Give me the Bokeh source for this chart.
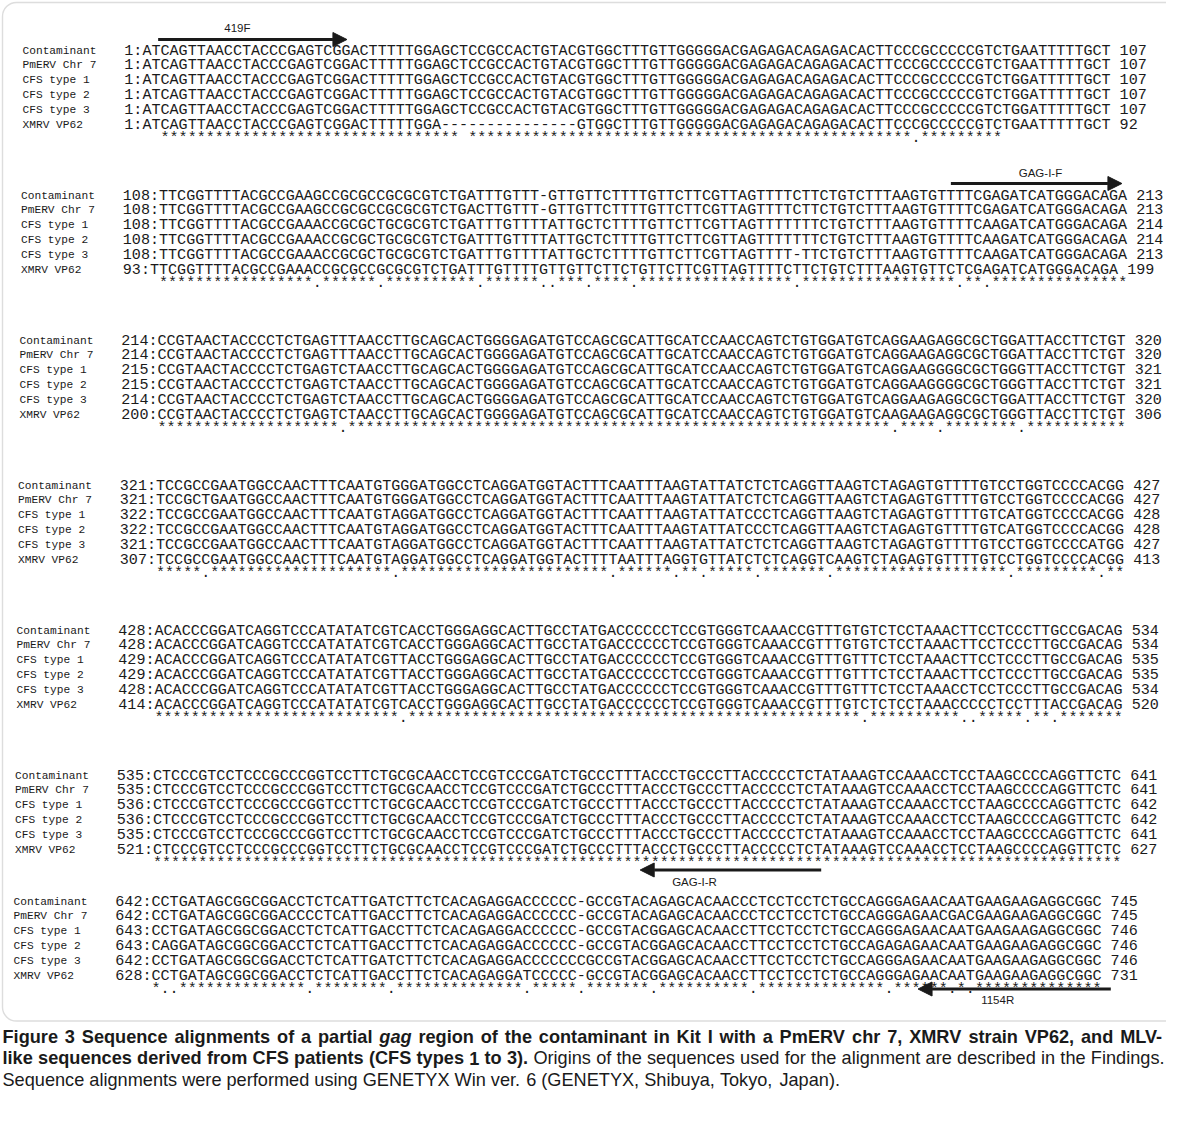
from bokeh.plotting import figure
from bokeh.models import Range1d, ColumnDataSource, Arrow, NormalHead, BoxAnnotation
from bokeh.embed import file_html
from bokeh.resources import INLINE
from bokeh.core.properties import value

# ---------------- data ----------------
strain_names = ["Contaminant", "PmERV Chr 7", "CFS type 1", "CFS type 2", "CFS type 3", "XMRV VP62"]

seq_contaminant = [
    "ATCAGTTAACCTACCCGAGTCGGACTTTTTGGAGCTCCGCCACTGTACGTGGCTTTGTTGGGGGACGAGAGACAGAGACACTTCCCGCCCCCGTCTGAATTTTTGCT",
    "TTCGGTTTTACGCCGAAGCCGCGCCGCGCGTCTGATTTGTTT-GTTGTTCTTTTGTTCTTCGTTAGTTTTCTTCTGTCTTTAAGTGTTTTCGAGATCATGGGACAGA",
    "CCGTAACTACCCCTCTGAGTTTAACCTTGCAGCACTGGGGAGATGTCCAGCGCATTGCATCCAACCAGTCTGTGGATGTCAGGAAGAGGCGCTGGATTACCTTCTGT",
    "TCCGCCGAATGGCCAACTTTCAATGTGGGATGGCCTCAGGATGGTACTTTCAATTTAAGTATTATCTCTCAGGTTAAGTCTAGAGTGTTTTGTCCTGGTCCCCACGG",
    "ACACCCGGATCAGGTCCCATATATCGTCACCTGGGAGGCACTTGCCTATGACCCCCCTCCGTGGGTCAAACCGTTTGTGTCTCCTAAACTTCCTCCCTTGCCGACAG",
    "CTCCCGTCCTCCCGCCCGGTCCTTCTGCGCAACCTCCGTCCCGATCTGCCCTTTACCCTGCCCTTACCCCCTCTATAAAGTCCAAACCTCCTAAGCCCCAGGTTCTC",
    "CCTGATAGCGGCGGACCTCTCATTGATCTTCTCACAGAGGACCCCCC-GCCGTACAGAGCACAACCCTCCTCCTCTGCCAGGGAGAACAATGAAGAAGAGGCGGC",
]
seq_pmerv = [
    "ATCAGTTAACCTACCCGAGTCGGACTTTTTGGAGCTCCGCCACTGTACGTGGCTTTGTTGGGGGACGAGAGACAGAGACACTTCCCGCCCCCGTCTGAATTTTTGCT",
    "TTCGGTTTTACGCCGAAGCCGCGCCGCGCGTCTGACTTGTTT-GTTGTTCTTTTGTTCTTCGTTAGTTTTCTTCTGTCTTTAAGTGTTTTCGAGATCATGGGACAGA",
    "CCGTAACTACCCCTCTGAGTTTAACCTTGCAGCACTGGGGAGATGTCCAGCGCATTGCATCCAACCAGTCTGTGGATGTCAGGAAGAGGCGCTGGATTACCTTCTGT",
    "TCCGCTGAATGGCCAACTTTCAATGTGGGATGGCCTCAGGATGGTACTTTCAATTTAAGTATTATCTCTCAGGTTAAGTCTAGAGTGTTTTGTCCTGGTCCCCACGG",
    "ACACCCGGATCAGGTCCCATATATCGTCACCTGGGAGGCACTTGCCTATGACCCCCCTCCGTGGGTCAAACCGTTTGTGTCTCCTAAACTTCCTCCCTTGCCGACAG",
    "CTCCCGTCCTCCCGCCCGGTCCTTCTGCGCAACCTCCGTCCCGATCTGCCCTTTACCCTGCCCTTACCCCCTCTATAAAGTCCAAACCTCCTAAGCCCCAGGTTCTC",
    "CCTGATAGCGGCGGACCCCTCATTGACCTTCTCACAGAGGACCCCCC-GCCGTACAGAGCACAACCCTCCTCCTCTGCCAGGGAGAACGACGAAGAAGAGGCGGC",
]
seq_cfs1 = [
    "ATCAGTTAACCTACCCGAGTCGGACTTTTTGGAGCTCCGCCACTGTACGTGGCTTTGTTGGGGGACGAGAGACAGAGACACTTCCCGCCCCCGTCTGGATTTTTGCT",
    "TTCGGTTTTACGCCGAAACCGCGCTGCGCGTCTGATTTGTTTTATTGCTCTTTTGTTCTTCGTTAGTTTTTTTCTGTCTTTAAGTGTTTTCAAGATCATGGGACAGA",
    "CCGTAACTACCCCTCTGAGTCTAACCTTGCAGCACTGGGGAGATGTCCAGCGCATTGCATCCAACCAGTCTGTGGATGTCAGGAAGGGGCGCTGGGTTACCTTCTGT",
    "TCCGCCGAATGGCCAACTTTCAATGTAGGATGGCCTCAGGATGGTACTTTCAATTTAAGTATTATCCCTCAGGTTAAGTCTAGAGTGTTTTGTCATGGTCCCCACGG",
    "ACACCCGGATCAGGTCCCATATATCGTTACCTGGGAGGCACTTGCCTATGACCCCCCTCCGTGGGTCAAACCGTTTGTTTCTCCTAAACTTCCTCCCTTGCCGACAG",
    "CTCCCGTCCTCCCGCCCGGTCCTTCTGCGCAACCTCCGTCCCGATCTGCCCTTTACCCTGCCCTTACCCCCTCTATAAAGTCCAAACCTCCTAAGCCCCAGGTTCTC",
    "CCTGATAGCGGCGGACCTCTCATTGACCTTCTCACAGAGGACCCCCC-GCCGTACGGAGCACAACCTTCCTCCTCTGCCAGGGAGAACAATGAAGAAGAGGCGGC",
]
seq_cfs2 = [
    "ATCAGTTAACCTACCCGAGTCGGACTTTTTGGAGCTCCGCCACTGTACGTGGCTTTGTTGGGGGACGAGAGACAGAGACACTTCCCGCCCCCGTCTGGATTTTTGCT",
    "TTCGGTTTTACGCCGAAACCGCGCTGCGCGTCTGATTTGTTTTATTGCTCTTTTGTTCTTCGTTAGTTTTTTTCTGTCTTTAAGTGTTTTCAAGATCATGGGACAGA",
    "CCGTAACTACCCCTCTGAGTCTAACCTTGCAGCACTGGGGAGATGTCCAGCGCATTGCATCCAACCAGTCTGTGGATGTCAGGAAGGGGCGCTGGGTTACCTTCTGT",
    "TCCGCCGAATGGCCAACTTTCAATGTAGGATGGCCTCAGGATGGTACTTTCAATTTAAGTATTATCCCTCAGGTTAAGTCTAGAGTGTTTTGTCATGGTCCCCACGG",
    "ACACCCGGATCAGGTCCCATATATCGTTACCTGGGAGGCACTTGCCTATGACCCCCCTCCGTGGGTCAAACCGTTTGTTTCTCCTAAACTTCCTCCCTTGCCGACAG",
    "CTCCCGTCCTCCCGCCCGGTCCTTCTGCGCAACCTCCGTCCCGATCTGCCCTTTACCCTGCCCTTACCCCCTCTATAAAGTCCAAACCTCCTAAGCCCCAGGTTCTC",
    "CAGGATAGCGGCGGACCTCTCATTGACCTTCTCACAGAGGACCCCCC-GCCGTACGGAGCACAACCTTCCTCCTCTGCCAGAGAGAACAATGAAGAAGAGGCGGC",
]
seq_cfs3 = [
    "ATCAGTTAACCTACCCGAGTCGGACTTTTTGGAGCTCCGCCACTGTACGTGGCTTTGTTGGGGGACGAGAGACAGAGACACTTCCCGCCCCCGTCTGGATTTTTGCT",
    "TTCGGTTTTACGCCGAAACCGCGCTGCGCGTCTGATTTGTTTTATTGCTCTTTTGTTCTTCGTTAGTTTT-TTCTGTCTTTAAGTGTTTTCAAGATCATGGGACAGA",
    "CCGTAACTACCCCTCTGAGTCTAACCTTGCAGCACTGGGGAGATGTCCAGCGCATTGCATCCAACCAGTCTGTGGATGTCAGGAAGAGGCGCTGGATTACCTTCTGT",
    "TCCGCCGAATGGCCAACTTTCAATGTAGGATGGCCTCAGGATGGTACTTTCAATTTAAGTATTATCTCTCAGGTTAAGTCTAGAGTGTTTTGTCCTGGTCCCCATGG",
    "ACACCCGGATCAGGTCCCATATATCGTTACCTGGGAGGCACTTGCCTATGACCCCCCTCCGTGGGTCAAACCGTTTGTTTCTCCTAAACCTCCTCCCTTGCCGACAG",
    "CTCCCGTCCTCCCGCCCGGTCCTTCTGCGCAACCTCCGTCCCGATCTGCCCTTTACCCTGCCCTTACCCCCTCTATAAAGTCCAAACCTCCTAAGCCCCAGGTTCTC",
    "CCTGATAGCGGCGGACCTCTCATTGATCTTCTCACAGAGGACCCCCCCGCCGTACGGAGCACAACCTTCCTCCTCTGCCAGGGAGAACAATGAAGAAGAGGCGGC",
]
seq_xmrv = [
    "ATCAGTTAACCTACCCGAGTCGGACTTTTTGGA---------------GTGGCTTTGTTGGGGGACGAGAGACAGAGACACTTCCCGCCCCCGTCTGAATTTTTGCT",
    "TTCGGTTTTACGCCGAAACCGCGCCGCGCGTCTGATTTGTTTTGTTGTTCTTCTGTTCTTCGTTAGTTTTCTTCTGTCTTTAAGTGTTCTCGAGATCATGGGACAGA",
    "CCGTAACTACCCCTCTGAGTCTAACCTTGCAGCACTGGGGAGATGTCCAGCGCATTGCATCCAACCAGTCTGTGGATGTCAAGAAGAGGCGCTGGGTTACCTTCTGT",
    "TCCGCCGAATGGCCAACTTTCAATGTAGGATGGCCTCAGGATGGTACTTTTAATTTAGGTGTTATCTCTCAGGTCAAGTCTAGAGTGTTTTGTCCTGGTCCCCACGG",
    "ACACCCGGATCAGGTCCCATATATCGTCACCTGGGAGGCACTTGCCTATGACCCCCCTCCGTGGGTCAAACCGTTTGTCTCTCCTAAACCCCCTCCTTTACCGACAG",
    "CTCCCGTCCTCCCGCCCGGTCCTTCTGCGCAACCTCCGTCCCGATCTGCCCTTTACCCTGCCCTTACCCCCTCTATAAAGTCCAAACCTCCTAAGCCCCAGGTTCTC",
    "CCTGATAGCGGCGGACCTCTCATTGACCTTCTCACAGAGGATCCCCC-GCCGTACGGAGCACAACCTTCCTCCTCTGCCAGGGAGAACAATGAAGAAGAGGCGGC",
]

start_contaminant = [1, 108, 214, 321, 428, 535, 642]
start_pmerv = [1, 108, 214, 321, 428, 535, 642]
start_cfs1 = [1, 108, 215, 322, 429, 536, 643]
start_cfs2 = [1, 108, 215, 322, 429, 536, 643]
start_cfs3 = [1, 108, 214, 321, 428, 535, 642]
start_xmrv = [1, 93, 200, 307, 414, 521, 628]

end_contaminant = [107, 213, 320, 427, 534, 641, 745]
end_pmerv = [107, 213, 320, 427, 534, 641, 745]
end_cfs1 = [107, 214, 321, 428, 535, 642, 746]
end_cfs2 = [107, 214, 321, 428, 535, 642, 746]
end_cfs3 = [107, 213, 320, 427, 534, 641, 746]
end_xmrv = [92, 199, 306, 413, 520, 627, 731]

consensus = [
    "*" * 33 + " " * 15 + "*" * 49 + "." + "*" * 9,
    "*" * 17 + "." + "*" * 6 + "." + "*" * 10 + "." + "*" * 6 + ".." + "*" * 3 + "." + "*" * 4 + "."
    + "*" * 17 + "." + "*" * 17 + "." + "*" * 2 + "." + "*" * 15,
    "*" * 20 + "." + "*" * 60 + "." + "*" * 4 + "." + "*" * 8 + "." + "*" * 11,
    "*" * 5 + "." + "*" * 20 + "." + "*" * 23 + "." + "*" * 6 + "." + "*" * 2 + "." + "*" * 5 + "."
    + "*" * 7 + "." + "*" * 19 + "." + "*" * 9 + "." + "*" * 2,
    "*" * 27 + "." + "*" * 50 + "." + "*" * 10 + ".." + "*" * 5 + "." + "*" * 2 + "." + "*" * 7,
    "*" * 107,
    "*.." + "*" * 14 + "." + "*" * 8 + "." + "*" * 14 + "." + "*" * 5 + "." + "*" * 7 + "." + "*" * 10
    + "." + "*" * 14 + "." + "*" * 6 + "." + "*" + "." + "*" * 14,
]

primer_names = ["419F", "GAG-I-F", "GAG-I-R", "1154R"]
primer_block = [0, 1, 6, 6]
primer_tail_col = [0.74, 88.5, 75.0, 107.0]
primer_head_col = [21.6, 107.4, 55.0, 85.7]
primer_label_col = [9.5, 98.4, 61.0, 94.5]

caption_line1 = [("Figure", "b"), ("3", "b"), ("Sequence", "b"), ("alignments", "b"), ("of", "b"), ("a", "b"),
                 ("partial", "b"), ("gag", "bi"), ("region", "b"), ("of", "b"), ("the", "b"), ("contaminant", "b"),
                 ("in", "b"), ("Kit", "b"), ("I", "b"), ("with", "b"), ("a", "b"), ("PmERV", "b"), ("chr", "b"),
                 ("7,", "b"), ("XMRV", "b"), ("strain", "b"), ("VP62,", "b"), ("and", "b"), ("MLV-", "b")]
caption_line2 = [(w, "b") for w in "like sequences derived from CFS patients (CFS types 1 to 3).".split()] + \
                [(w, "n") for w in "Origins of the sequences used for the alignment are described in the Findings.".split()]
caption_line3 = [(w, "n") for w in
                 "Sequence alignments were performed using GENETYX Win ver. 6 (GENETYX, Shibuya, Tokyo, Japan).".split()]

# ---------------- layout ----------------
W, H = 1166, 1123
P = 9.05                      # column pitch (px)
SEQ_FS = P / 0.6001           # Liberation Mono advance = 0.6 em
X1 = 168.0                    # left edge of alignment column 1 (block 1)
DX = -1.5                     # slight skew of the scanned page per block
NAME_X = 30.0
Y0 = 58.0
BLOCK_DY = 145.0
ROW_DY = 14.9
TXT = "#1a1a1a"


def block_top(b):
    return Y0 + b * BLOCK_DY - (19.0 if b == 6 else 0.0)


def col_x(b, c):
    return X1 + DX * b + (c - 1) * P


def cons_y(b):
    return block_top(b) + 5 * ROW_DY + 10


p = figure(width=W, height=H, x_range=Range1d(8, 8 + W), y_range=Range1d(8 + H, 8),
           x_axis_type=None, y_axis_type=None, toolbar_location=None,
           output_backend="svg", min_border=0, outline_line_color=None)
p.background_fill_color = "white"
p.border_fill_color = "white"

# frame box (rounded)
p.add_layout(BoxAnnotation(left=10, right=1200, top=10, bottom=cons_y(6) + 35,
                           fill_alpha=0, line_color="#8f8f8f", line_width=1.4, border_radius=14))

all_seqs = [seq_contaminant, seq_pmerv, seq_cfs1, seq_cfs2, seq_cfs3, seq_xmrv]
all_starts = [start_contaminant, start_pmerv, start_cfs1, start_cfs2, start_cfs3, start_xmrv]
all_ends = [end_contaminant, end_pmerv, end_cfs1, end_cfs2, end_cfs3, end_xmrv]

name_src = dict(x=[], y=[], text=[])
row_src = dict(x=[], y=[], text=[])
cons_src = dict(x=[], y=[], text=[])
for b in range(7):
    for k in range(6):
        y = block_top(b) + k * ROW_DY
        name_src["x"].append(NAME_X + DX * b)
        name_src["y"].append(y)
        name_src["text"].append(strain_names[k])
        s = all_seqs[k][b]
        line = "%3d:%s %d" % (all_starts[k][b], s.ljust(107), all_ends[k][b])
        row_src["x"].append(col_x(b, -3))
        row_src["y"].append(y)
        row_src["text"].append(line)
    cons_src["x"].append(col_x(b, 1))
    cons_src["y"].append(cons_y(b) + 2.5)
    cons_src["text"].append(consensus[b])

p.text(x="x", y="y", text="text", source=ColumnDataSource(name_src),
       text_font=value("Liberation Mono"), text_font_size=value("11.2px"),
       text_align="left", text_baseline="middle", text_color=TXT)
p.text(x="x", y="y", text="text", source=ColumnDataSource(row_src),
       text_font=value("Liberation Mono"), text_font_size=value("%.2fpx" % SEQ_FS),
       text_align="left", text_baseline="middle", text_color=TXT)
p.text(x="x", y="y", text="text", source=ColumnDataSource(cons_src),
       text_font=value("Liberation Mono"), text_font_size=value("%.2fpx" % SEQ_FS),
       text_align="left", text_baseline="middle", text_color=TXT)

# primer arrows
lab_src = dict(x=[], y=[], text=[])
for i, nm in enumerate(primer_names):
    b = primer_block[i]
    if i == 0:
        ya, yl = block_top(0) - 11, block_top(0) - 23
    elif i == 1:
        ya, yl = block_top(1) - 12, block_top(1) - 23
    elif i == 2:
        ya, yl = cons_y(5) + 10, cons_y(5) + 22
    else:
        ya, yl = cons_y(6) + 3, cons_y(6) + 14
    p.add_layout(Arrow(end=NormalHead(size=14, line_color=TXT, fill_color=TXT),
                       x_start=col_x(b, primer_tail_col[i]), y_start=ya,
                       x_end=col_x(b, primer_head_col[i]), y_end=ya,
                       line_width=3.2, line_color=TXT))
    lab_src["x"].append(col_x(b, primer_label_col[i]))
    lab_src["y"].append(yl)
    lab_src["text"].append(nm)
p.text(x="x", y="y", text="text", source=ColumnDataSource(lab_src),
       text_font=value("Liberation Sans"), text_font_size=value("11.5px"),
       text_align="center", text_baseline="middle", text_color=TXT)

# ---------------- caption (justified, Arial/Helvetica metrics) ----------------
REG = dict(zip("ABCDEFGHIJKLMNOPQRSTUVWXYZ",
               [667, 667, 722, 722, 667, 611, 778, 722, 278, 500, 667, 556, 833, 722, 778, 667, 778, 722, 667,
                611, 722, 667, 944, 667, 667, 611]))
REG.update(dict(zip("abcdefghijklmnopqrstuvwxyz",
                    [556, 556, 500, 556, 556, 278, 556, 556, 222, 222, 500, 222, 833, 556, 556, 556, 556, 333, 500,
                     278, 556, 500, 722, 500, 500, 500])))
BOLD = dict(zip("ABCDEFGHIJKLMNOPQRSTUVWXYZ",
                [722, 722, 722, 722, 667, 611, 778, 722, 278, 556, 722, 611, 833, 722, 778, 667, 778, 722, 667,
                 611, 722, 667, 944, 667, 667, 611]))
BOLD.update(dict(zip("abcdefghijklmnopqrstuvwxyz",
                     [556, 611, 556, 611, 556, 333, 611, 611, 278, 278, 556, 278, 889, 611, 611, 611, 611, 389, 556,
                      333, 611, 556, 778, 556, 556, 500])))
for t in (REG, BOLD):
    t.update({c: 556 for c in "0123456789"})
    t.update({" ": 278, ",": 278, ".": 278, "-": 333, "(": 333, ")": 333, ":": 278})


def em(word, style):
    tab = REG if style == "n" else BOLD
    return sum(tab.get(ch, 556) for ch in word) / 1000.0


CAP_X0, CAP_X1 = 10.0, 1172.0
CW = CAP_X1 - CAP_X0


def natural(words):
    return sum(em(w, s) for w, s in words) + 0.278 * (len(words) - 1)


CAP_FS = min(18.5, 0.996 * CW / max(natural(caption_line1), natural(caption_line2)))
cap_y0 = block_top(6) + 135
CAP_LH = 21.5

cap = {"b": dict(x=[], y=[], text=[]), "bi": dict(x=[], y=[], text=[]), "n": dict(x=[], y=[], text=[])}
for li, (words, justify) in enumerate([(caption_line1, True), (caption_line2, True), (caption_line3, False)]):
    widths = [em(w, s) * CAP_FS for w, s in words]
    if justify:
        gap = (CW - sum(widths)) / (len(words) - 1)
    else:
        gap = 0.278 * CAP_FS
    x = CAP_X0
    for (w, s), wd in zip(words, widths):
        cap[s]["x"].append(x)
        cap[s]["y"].append(cap_y0 + li * CAP_LH)
        cap[s]["text"].append(w)
        x += wd + gap

for s, style in (("b", "bold"), ("bi", "bold italic"), ("n", "normal")):
    p.text(x="x", y="y", text="text", source=ColumnDataSource(cap[s]),
           text_font=value("Liberation Sans"), text_font_size=value("%.2fpx" % CAP_FS),
           text_font_style=style, text_align="left", text_baseline="middle", text_color="#1a1a1a")

open("out.html", "w").write(file_html(p, INLINE))
